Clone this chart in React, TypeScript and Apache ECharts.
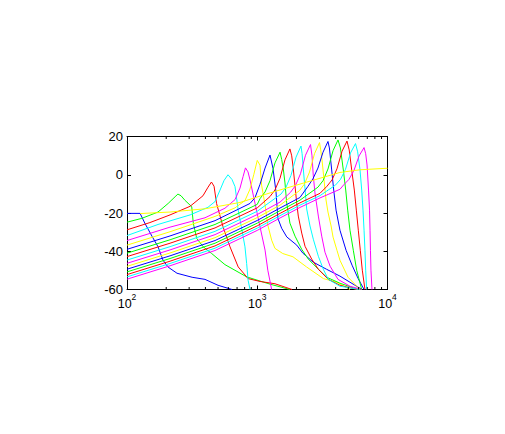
import React, { useEffect, useRef } from "react";
import * as echarts from "echarts";

// colour order of the curves (MATLAB classic)
const colorOrder = ["#0000ff", "#00ff00", "#ff0000", "#00ffff", "#ff00ff", "#ffff00"];

// each curve: [frequency (Hz), level (dB)]
const curve01 = [[100,-20.2],[126,-20.2],[137,-25.3],[156,-32.3],[173,-37.6],[189,-44.7],[207,-48.3],[242,-51.5],[316,-53.6],[397,-54.7],[500,-57.8],[640,-60]];
const curve02 = [[100,-24.8],[130,-22.8],[173,-19.5],[207,-15],[234,-11.5],[246,-10.1],[260,-11],[279,-13.4],[314,-16.7],[323,-25.4],[343,-33.3],[385,-37.7],[447,-41.2],[565,-47],[830,-53.4],[1253,-57.2],[1782,-60]];
const curve03 = [[100,-28.8],[150,-25],[214,-21],[305,-16.5],[383,-11],[419,-6.5],[445,-3.8],[466,-6],[487,-15],[546,-27.2],[618,-37.7],[714,-48.2],[851,-54.3],[1050,-55.8],[1368,-57],[1849,-60]];
const curve04 = [[100,-31.8],[173,-26],[305,-21],[419,-17],[474,-14],[518,-8],[556,-3],[596,0],[640,-2.5],[675,-6.2],[714,-18.5],[755,-27.2],[805,-37.7],[829,-46.4],[851,-55.2],[880,-60]];
const curve05 = [[100,-34.4],[214,-27.4],[397,-22.5],[565,-17.5],[675,-13],[737,-7],[778,-1],[812,3.6],[849,1.5],[880,-2.7],[961,-14.9],[1050,-27.2],[1148,-39.4],[1205,-49.9],[1290,-60]];
const curve06 = [[100,-36.8],[214,-29.8],[474,-21.8],[675,-17.3],[805,-13.5],[880,-7.5],[940,0],[1000,7.5],[1050,5],[1080,-5.4],[1148,-15.8],[1205,-26.3],[1290,-34.2],[1368,-38.5],[1570,-41.2],[1880,-42.9],[2390,-48.2],[3220,-54.3],[4080,-56.2],[5152,-60]];
const curve07 = [[100,-39],[214,-32],[474,-24],[880,-15],[961,-12],[1050,-5],[1148,3.5],[1253,10.3],[1320,3.4],[1393,-8.9],[1440,-22.8],[1540,-28],[1685,-32.5],[2010,-36.8],[2240,-41],[2690,-45.7],[3400,-49.4],[4315,-53],[5152,-56.2],[6368,-60]];
const curve08 = [[100,-41],[214,-34],[474,-26],[1000,-15.5],[1050,-12.5],[1148,-9],[1253,-3.1],[1368,6.2],[1496,11.8],[1540,8],[1585,3],[1633,-4.3],[1683,-14.8],[1782,-25.3],[1950,-32.1],[2195,-39],[2466,-44.1],[2944,-49.4],[3412,-53.6],[4315,-56.7],[5943,-60]];
const curve09 = [[100,-42.8],[214,-35.8],[474,-27.8],[1000,-17.3],[1253,-11.4],[1368,-7.9],[1496,-1.8],[1633,7.8],[1782,13.5],[1839,9.9],[1892,3],[1950,-5.9],[2009,-14.8],[2066,-21.6],[2195,-30.5],[2327,-37.4],[2618,-44.1],[2944,-49.4],[3512,-54.7],[4315,-57.8],[5834,-60]];
const curve10 = [[100,-44.6],[214,-37.6],[474,-29.6],[1000,-19.1],[1522,-10.1],[1661,-6.6],[1815,-0.4],[1985,9.2],[2167,15],[2210,11],[2257,3],[2327,-7.4],[2397,-17.9],[2541,-26.8],[2694,-33.7],[2944,-42.6],[3215,-49.4],[3512,-54.7],[4315,-58.3],[6152,-60]];
const curve11 = [[100,-46.3],[214,-39.3],[474,-31.3],[1000,-20.8],[1496,-14.3],[1800,-9.2],[1967,-5.6],[2148,0.5],[2347,10.2],[2564,15.8],[2633,9.9],[2694,-0.6],[2774,-9.5],[2944,-21.6],[3125,-32.1],[3311,-40.5],[3622,-47.8],[4169,-54.7],[5152,-58.3],[6368,-60]];
const curve12 = [[100,-47.9],[214,-40.9],[474,-32.9],[1000,-22.4],[1496,-15.9],[2111,-8.3],[2306,-4.8],[2519,1.4],[2752,11],[3006,16.8],[3070,13],[3141,7.8],[3258,-2.7],[3373,-13.2],[3491,-19.5],[3690,-26.8],[3819,-32.6],[4093,-39.5],[4315,-44.7],[4977,-53.6],[6152,-60]];
const curve13 = [[100,-49.4],[214,-42.4],[474,-34.4],[1000,-23.9],[1496,-17.4],[2128,-11.9],[2455,-6],[2681,-2],[2924,3.5],[3199,11.8],[3491,17.4],[3580,14],[3729,2.5],[3864,-8],[4027,-18.5],[4315,-29],[4808,-39.5],[5346,-47.3],[5943,-54.2],[6607,-60]];
const curve14 = [[100,-50.8],[214,-43.8],[474,-35.8],[1000,-25.3],[1496,-18.8],[2128,-13.3],[2924,-6.5],[3199,-3.1],[3491,3],[3819,12.6],[4169,18.2],[4350,14],[4580,2.5],[4778,-8],[4948,-18.5],[5152,-29],[5465,-39.5],[5800,-49.9],[6339,-60]];
const curve15 = [[100,-52.2],[214,-45.2],[474,-37.2],[1000,-26.7],[1496,-20.2],[2128,-14.7],[3034,-9.7],[3431,-6],[3753,-2.7],[4093,3.1],[4477,12.3],[4887,17.6],[5080,13],[5312,2.5],[5562,-8],[5762,-18.5],[5969,-29],[6183,-39.5],[6405,-49.9],[6714,-60]];
const curve16 = [[100,-53.4],[214,-46.4],[474,-38.4],[1000,-27.9],[1496,-21.4],[2128,-15.9],[3034,-10.9],[3990,-5.4],[4358,-2.4],[4762,2.9],[5200,11.4],[5680,16.3],[5900,12],[6152,2.5],[6339,-8],[6486,-18.5],[6607,-29],[6714,-39.5],[6800,-49.9],[6920,-60]];
const curve17 = [[100,-54.6],[214,-47.6],[474,-39.6],[1000,-29.1],[1496,-22.6],[2128,-17.1],[3034,-12.1],[4315,-7.6],[4636,-5.1],[5064,-2.4],[5532,2.3],[6043,9.8],[6607,14.2],[6800,11],[6966,5.1],[7150,-8],[7280,-18.5],[7345,-29],[7400,-39.5],[7464,-49.9],[7603,-60]];
const curve18 = [[126,-20.3],[214,-19.5],[397,-17.8],[737,-14.5],[1253,-9.5],[2410,-3.8],[4315,1.2],[6152,2.6],[10000,3.4]];

const curves = [curve01, curve02, curve03, curve04, curve05, curve06, curve07, curve08, curve09,
  curve10, curve11, curve12, curve13, curve14, curve15, curve16, curve17, curve18];

// axis values
const xRange = [100, 10000];
const yRange = [-60, 20];
const yStep = 20;
const minorTickValues = [200, 300, 400, 500, 600, 700, 800, 900, 2000, 3000, 4000, 5000, 6000, 7000, 8000, 9000];

const FONT = "'Liberation Sans', Arial, Helvetica, sans-serif";

export default function App() {
  const ref = useRef<HTMLDivElement>(null);

  useEffect(() => {
    if (!ref.current) return;
    const chart = echarts.init(ref.current, null, { renderer: "svg" });

    const axisLine = { show: true, onZero: false, lineStyle: { color: "#000", width: 1 } };
    const axisTick = { show: true, inside: true, length: 4, lineStyle: { color: "#000", width: 1 } };

    const lineSeries = curves.map((data, i) => ({
      type: "line",
      data,
      xAxisIndex: 0,
      yAxisIndex: 0,
      showSymbol: false,
      symbol: "none",
      clip: true,
      silent: true,
      lineStyle: { width: 1, color: colorOrder[i % colorOrder.length] },
      itemStyle: { color: colorOrder[i % colorOrder.length] },
      z: 2,
    }));

    const minorTicks = {
      type: "custom",
      xAxisIndex: 0,
      yAxisIndex: 0,
      data: minorTickValues.map((v) => [v, yRange[0]]),
      encode: { x: 0, y: 1 },
      clip: false,
      silent: true,
      z: 5,
      renderItem: (_params: any, api: any) => {
        const v = api.value(0);
        const b = api.coord([v, yRange[0]]);
        const t = api.coord([v, yRange[1]]);
        const style = { stroke: "#000", lineWidth: 1 };
        return {
          type: "group",
          children: [
            { type: "line", shape: { x1: b[0], y1: b[1], x2: b[0], y2: b[1] - 2.5 }, style },
            { type: "line", shape: { x1: t[0], y1: t[1], x2: t[0], y2: t[1] + 2.5 }, style },
          ],
        };
      },
    };

    chart.setOption({
      animation: false,
      backgroundColor: "#ffffff",
      grid: { left: 127, top: 136.5, right: 117.5, bottom: 144.5, containLabel: false },
      xAxis: [
        {
          type: "log",
          logBase: 10,
          min: xRange[0],
          max: xRange[1],
          position: "bottom",
          axisLine,
          axisTick,
          splitLine: { show: false },
          axisLabel: {
            show: true,
            margin: 3,
            color: "#000",
            formatter: (v: number) => `{b|10}{s|${Math.round(Math.log10(v))}}`,
            rich: {
              b: { fontSize: 12.5, fontFamily: FONT, color: "#000", lineHeight: 18, verticalAlign: "bottom" },
              s: { fontSize: 8.5, fontFamily: FONT, color: "#000", lineHeight: 18, verticalAlign: "top" },
            },
          },
        },
        {
          type: "log",
          logBase: 10,
          min: xRange[0],
          max: xRange[1],
          position: "top",
          axisLine,
          axisTick,
          splitLine: { show: false },
          axisLabel: { show: false },
        },
      ],
      yAxis: [
        {
          type: "value",
          min: yRange[0],
          max: yRange[1],
          interval: yStep,
          position: "left",
          axisLine,
          axisTick,
          splitLine: { show: false },
          axisLabel: { show: true, margin: 4, color: "#000", fontSize: 13, fontFamily: FONT },
        },
        {
          type: "value",
          min: yRange[0],
          max: yRange[1],
          interval: yStep,
          position: "right",
          axisLine,
          axisTick,
          splitLine: { show: false },
          axisLabel: { show: false },
        },
      ],
      series: [...lineSeries, minorTicks],
    });

    return () => chart.dispose();
  }, []);

  return (
    <div
      ref={ref}
      style={{ position: "absolute", left: 0, top: 0, width: 505, height: 434, background: "#fff" }}
    />
  );
}
